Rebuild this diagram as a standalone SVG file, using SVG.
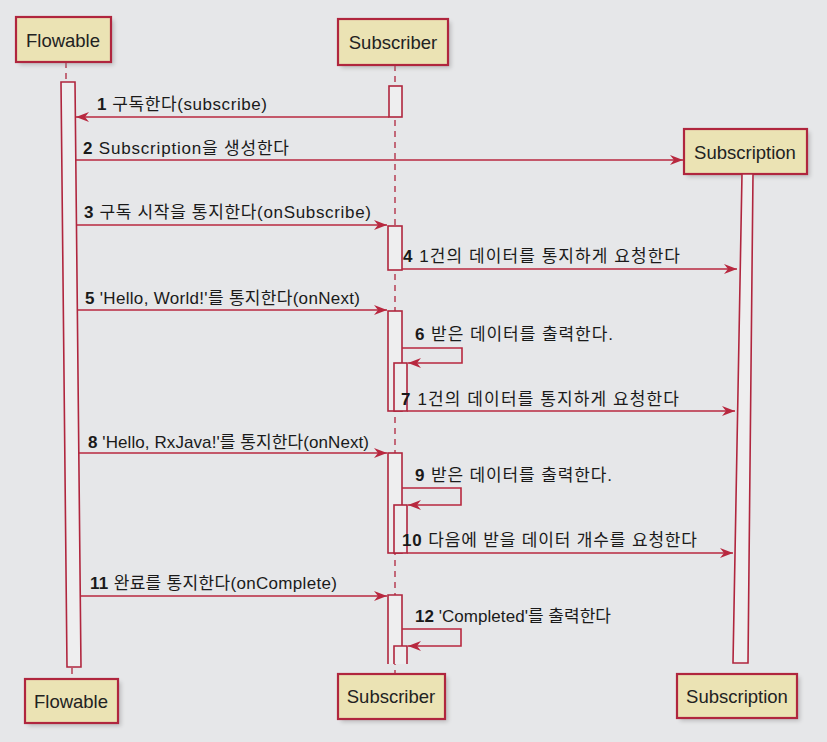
<svg xmlns="http://www.w3.org/2000/svg" width="827" height="742" viewBox="0 0 827 742">
<defs>
<style>
.box{fill:#ebe3b4;stroke:#b0263e;stroke-width:2.2}
.nm{font-family:"Liberation Sans","Noto Sans CJK KR",sans-serif;font-size:18.5px;fill:#222;text-anchor:middle}
.lb{font-family:"Liberation Sans","Noto Sans CJK KR",sans-serif;font-size:17px;fill:#1a1a1a}
.lb tspan.n{font-weight:bold}
.act{fill:#eeeeef;stroke:#b0263e;stroke-width:1.6}
.life{stroke:#b0263e;stroke-width:1.3;stroke-dasharray:6,5;fill:none}
.msg{stroke:#b8283f;stroke-width:1.6;fill:none}
</style>
<marker id="ah" viewBox="0 0 13 10" refX="13" refY="5" markerWidth="13" markerHeight="10" markerUnits="userSpaceOnUse" orient="auto">
<path d="M0,0 L13,5 L0,10 L4,5 Z" fill="#b8283f"/>
</marker>
<filter id="sh" x="-10%" y="-10%" width="130%" height="140%">
<feGaussianBlur stdDeviation="2"/>
</filter>
</defs>
<rect width="827" height="742" fill="#e6e7e9"/>

<g id="lifelines">
<line class="life" x1="66" y1="62" x2="66" y2="82"/>
<line class="life" x1="72" y1="668" x2="72" y2="679"/>
<line class="life" x1="395" y1="65" x2="395" y2="675"/>
</g>

<g id="Flowable">
<rect x="19" y="20" width="95" height="45" fill="#888" opacity="0.45" filter="url(#sh)"/>
<rect class="box" x="16" y="17" width="95" height="45"/>
<text class="nm" x="63" y="47">Flowable</text>
<path class="act" d="M61,82 L75,82 L81,667 L67,667 Z"/>
<rect x="28" y="682" width="93" height="44" fill="#888" opacity="0.45" filter="url(#sh)"/>
<rect class="box" x="25" y="679" width="93" height="44"/>
<text class="nm" x="71" y="708">Flowable</text>
</g>

<g id="Subscriber">
<rect x="341" y="22" width="110" height="46" fill="#888" opacity="0.45" filter="url(#sh)"/>
<rect class="box" x="338" y="19" width="110" height="46"/>
<text class="nm" x="393" y="49">Subscriber</text>
<rect class="act" x="389" y="86" width="13" height="31"/>
<rect class="act" x="388" y="226" width="14" height="44"/>
<rect class="act" x="388" y="311" width="14" height="100"/>
<rect class="act" x="394" y="363" width="13" height="48"/>
<rect class="act" x="388" y="453" width="14" height="100"/>
<rect class="act" x="394" y="505" width="13" height="48"/>
<path class="act" d="M388,664 L388,595 L402,595 L402,664"/>
<path class="act" d="M394,664 L394,646 L407,646 L407,664"/>
<rect x="341" y="677" width="107" height="45" fill="#888" opacity="0.45" filter="url(#sh)"/>
<rect class="box" x="338" y="674" width="107" height="45"/>
<text class="nm" x="391" y="703">Subscriber</text>
</g>

<g id="Subscription">
<rect x="687" y="132" width="123" height="45" fill="#888" opacity="0.45" filter="url(#sh)"/>
<rect class="box" x="684" y="129" width="123" height="45"/>
<text class="nm" x="745" y="159">Subscription</text>
<path class="act" d="M742,174 L753,174 L748,663 L733,663 Z"/>
<rect x="680" y="677" width="120" height="44" fill="#888" opacity="0.45" filter="url(#sh)"/>
<rect class="box" x="677" y="674" width="120" height="44"/>
<text class="nm" x="737" y="703">Subscription</text>
</g>

<g id="connectors">
<line class="msg" x1="389" y1="117" x2="76" y2="117" marker-end="url(#ah)"/>
<line class="msg" x1="76" y1="160" x2="683" y2="160" marker-end="url(#ah)"/>
<line class="msg" x1="77" y1="225" x2="387" y2="225" marker-end="url(#ah)"/>
<line class="msg" x1="402" y1="269" x2="737" y2="269" marker-end="url(#ah)"/>
<line class="msg" x1="78" y1="310" x2="387" y2="310" marker-end="url(#ah)"/>
<path class="msg" d="M402,348 L462,348 L462,363 L408,363" marker-end="url(#ah)"/>
<line class="msg" x1="407" y1="411" x2="735" y2="411" marker-end="url(#ah)"/>
<line class="msg" x1="79" y1="453" x2="387" y2="453" marker-end="url(#ah)"/>
<path class="msg" d="M402,488 L461,488 L461,505 L408,505" marker-end="url(#ah)"/>
<line class="msg" x1="407" y1="553" x2="733" y2="553" marker-end="url(#ah)"/>
<line class="msg" x1="81" y1="596" x2="387" y2="596" marker-end="url(#ah)"/>
<path class="msg" d="M402,629 L461,629 L461,646 L408,646" marker-end="url(#ah)"/>
</g>

<g id="labels">
<text class="lb" x="97" y="110" textLength="170" lengthAdjust="spacing"><tspan class="n">1</tspan> 구독한다(subscribe)</text>
<text class="lb" x="83" y="154" textLength="206" lengthAdjust="spacing"><tspan class="n">2</tspan> Subscription을 생성한다</text>
<text class="lb" x="84" y="218" textLength="287" lengthAdjust="spacing"><tspan class="n">3</tspan> 구독 시작을 통지한다(onSubscribe)</text>
<text class="lb" x="403" y="262" textLength="277" lengthAdjust="spacing"><tspan class="n">4</tspan> 1건의 데이터를 통지하게 요청한다</text>
<text class="lb" x="85" y="304" textLength="275" lengthAdjust="spacing"><tspan class="n">5</tspan> 'Hello, World!'를 통지한다(onNext)</text>
<text class="lb" x="415" y="340" textLength="198" lengthAdjust="spacing"><tspan class="n">6</tspan> 받은 데이터를 출력한다.</text>
<text class="lb" x="401" y="405" textLength="278" lengthAdjust="spacing"><tspan class="n">7</tspan> 1건의 데이터를 통지하게 요청한다</text>
<text class="lb" x="88" y="448" textLength="281" lengthAdjust="spacing"><tspan class="n">8</tspan> 'Hello, RxJava!'를 통지한다(onNext)</text>
<text class="lb" x="415" y="481" textLength="197" lengthAdjust="spacing"><tspan class="n">9</tspan> 받은 데이터를 출력한다.</text>
<text class="lb" x="402" y="546" textLength="295" lengthAdjust="spacing"><tspan class="n">10</tspan> 다음에 받을 데이터 개수를 요청한다</text>
<text class="lb" x="90" y="589" textLength="247" lengthAdjust="spacing"><tspan class="n">11</tspan> 완료를 통지한다(onComplete)</text>
<text class="lb" x="415" y="622" textLength="196" lengthAdjust="spacing"><tspan class="n">12</tspan> 'Completed'를 출력한다</text>
</g>
</svg>
